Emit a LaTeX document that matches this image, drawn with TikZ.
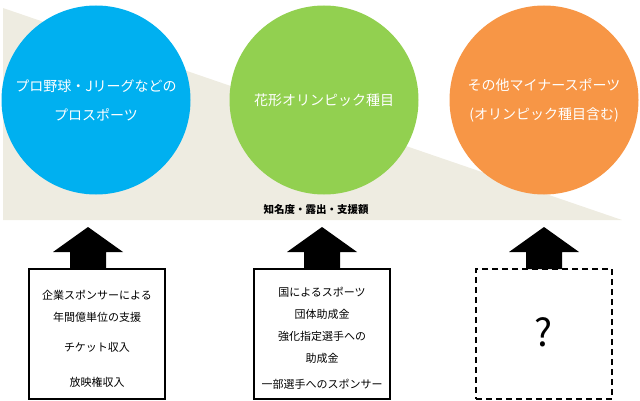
\documentclass[tikz,border=0pt]{standalone}
\usepackage{fontspec}
\setmainfont{Noto Sans CJK JP}

\definecolor{bggray}{HTML}{EEECE1}
\definecolor{problue}{HTML}{00B0F0}
\definecolor{olygreen}{HTML}{92D050}
\definecolor{minorange}{HTML}{F79646}

\begin{document}
\begin{tikzpicture}[x=1pt,y=-1pt]

    \tikzset{
        sport/.style={
            circle,
            minimum size=189pt,
            inner sep=0pt,
            text=white,
            align=center,
            font=\fontsize{14}{29}\selectfont
        },
        srcbox/.style={
            draw,
            line width=1.5pt,
            minimum width=136pt,
            minimum height=130pt,
            inner sep=0pt
        },
        srctext/.style={
            align=center,
            font=\fontsize{11}{22}\selectfont
        }
    }

    \useasboundingbox (0,0) rectangle (640,401);

    % pozadi
    \fill[bggray] (3,8) -- (622,220) -- (3,220) -- cycle;

    % kruhy
    \node[sport, fill=problue]   (pro)   at (96,100)  {プロ野球・Jリーグなどの\\プロスポーツ};
    \node[sport, fill=olygreen]  (oly)   at (324,100) {花形オリンピック種目};
    \node[sport, fill=minorange] (minor) at (544,100) {その他マイナースポーツ\\(オリンピック種目含む)};

    \node[font=\fontsize{10.5}{12}\selectfont\bfseries] (axis) at (316,209) {知名度・露出・支援額};

    % boxy
    \node[srcbox] (box1) at (97,334) {};
    \node[srcbox] (box2) at (322,334) {};
    \node[srcbox, line width=2pt, dash pattern=on 6pt off 4pt] (box3) at (544,334) {};

    \node[srctext] (txt1) at (97,339)
        {企業スポンサーによる\\年間億単位の支援\\[8pt]チケット収入\\[13pt]放映権収入};
    \node[srctext] (txt2) at (322,338)
        {国によるスポーツ\\団体助成金\\強化指定選手への\\助成金\\[4pt]一部選手へのスポンサー};
    \node[font=\fontsize{38}{40}\selectfont] (quest) at (544,332) {?};

    % sipky
    \coordinate (a1) at (88,269);
    \coordinate (a2) at (322,269);
    \coordinate (a3) at (544,269);

    \foreach \a in {a1,a2,a3}
        \fill (\a) ++(-18,0) -- ++(0,-17) -- ++(-17,0) -- ++(35,-25)
            -- ++(35,25) -- ++(-17,0) -- ++(0,17) -- cycle;

\end{tikzpicture}
\end{document}
